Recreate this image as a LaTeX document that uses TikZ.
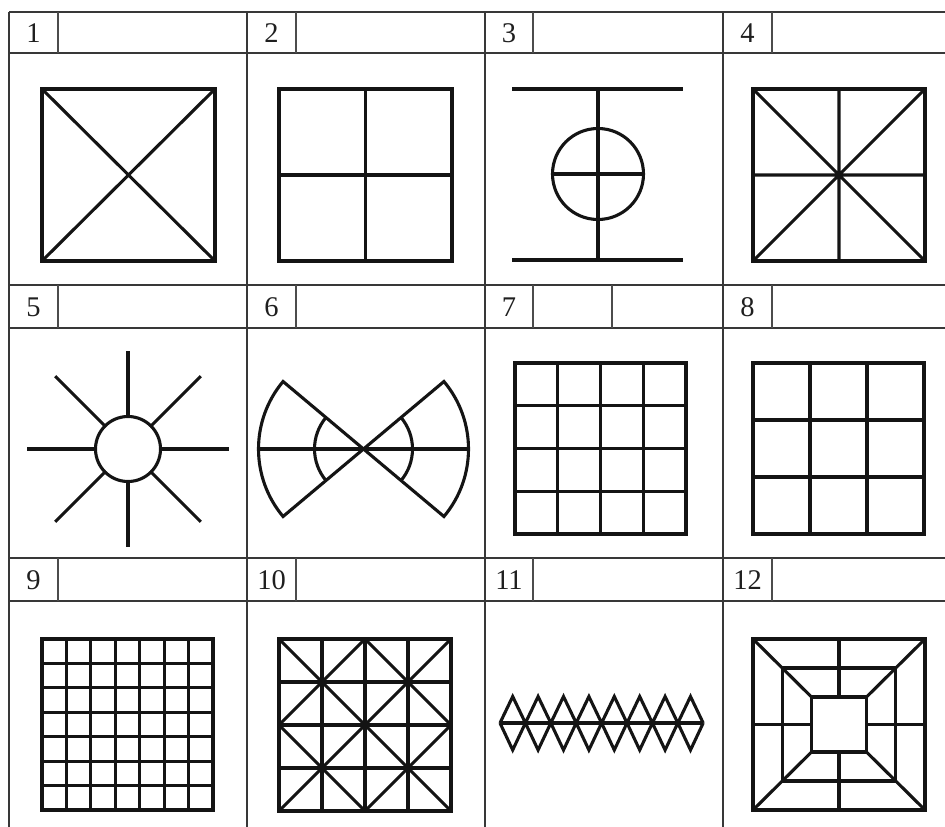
\documentclass[tikz,border=0pt]{standalone}
\usepackage{fontspec}
\setmainfont{Liberation Serif}
\usetikzlibrary{calc}
\begin{document}
\begin{tikzpicture}[x=1pt,y=-1pt,
  tbl/.style={line width=1.4pt, black!78},
  tbldiv/.style={line width=1.15pt, black!70},
  fig/.style={line width=3.1pt, black!92, line join=miter},
  frame/.style={line width=3.6pt, black!92, line join=miter},
  num/.style={font=\fontsize{28.5}{30}\selectfont, inner sep=0pt, text=black!88}]
\useasboundingbox (0,0) rectangle (945,827);
% table
\foreach \y in {12,53,285,328,558,601} \draw[tbl] (9,\y) -- (945,\y);
\foreach \x in {9,247,485,723} \draw[tbl] (\x,12) -- (\x,827);
\foreach \x in {58,296,533,772} {
  \foreach \a/\b in {12/53,285/328,558/601} \draw[tbldiv] (\x,\a) -- (\x,\b);
}
\draw[tbldiv] (612,285) -- (612,328);
% numbers
\node[num] (n1) at (33.5,33) {1};
\node[num] (n2) at (271.5,33) {2};
\node[num] (n3) at (509,33) {3};
\node[num] (n4) at (747.5,33) {4};
\node[num] (n5) at (33.5,307) {5};
\node[num] (n6) at (271.5,307) {6};
\node[num] (n7) at (509,307) {7};
\node[num] (n8) at (747.5,307) {8};
\node[num] (n9) at (33.5,580) {9};
\node[num] (n10) at (271.5,580) {10};
\node[num] (n11) at (509,580) {11};
\node[num] (n12) at (747.5,580) {12};
% fig 1
\draw[frame] (42,89) rectangle (215,261);
\draw[fig] (42,89) -- (215,261) (215,89) -- (42,261);
% fig 2
\draw[frame] (279,89) rectangle (452,261);
\draw[fig] (365.5,89) -- (365.5,261) (279,175) -- (452,175);
% fig 3
\draw[fig] (512,89) -- (683,89) (512,260) -- (683,260) (598,89) -- (598,260);
\draw[fig] (598,174) circle (45.5);
\draw[fig] (552.5,174) -- (643.5,174);
% fig 4
\draw[frame] (753,89) rectangle (925,261);
\draw[fig] (753,89) -- (925,261) (925,89) -- (753,261) (839,89) -- (839,261) (753,175) -- (925,175);
% fig 5
\begin{scope}[shift={(128,449)}]
\draw[fig] (0,0) circle (32.5);
\foreach \a/\r in {0/101,90/98,180/101,270/98,45/103,135/103,225/103,315/103}
  \draw[fig] (\a:32.5) -- (\a:\r);
\end{scope}
% fig 6
\begin{scope}[shift={(363.5,449)}]
\draw[fig] (0,0) -- (40:105) arc[start angle=40,end angle=-40,radius=105] -- cycle;
\draw[fig] (0,0) -- (140:105) arc[start angle=140,end angle=220,radius=105] -- cycle;
\draw[fig] (40:49) arc[start angle=40,end angle=-40,radius=49];
\draw[fig] (140:49) arc[start angle=140,end angle=220,radius=49];
\draw[fig] (-105,0) -- (105,0);
\end{scope}
% fig 7
\foreach \i in {1,2,3} {
  \draw[fig] ({515+\i*42.75},363) -- ({515+\i*42.75},534);
  \draw[fig] (515,{363+\i*42.75}) -- (686,{363+\i*42.75});
}
\draw[frame] (515,363) rectangle (686,534);
% fig 8
\foreach \i in {1,2} {
  \draw[fig] ({753+\i*57},363) -- ({753+\i*57},534);
  \draw[fig] (753,{363+\i*57}) -- (924,{363+\i*57});
}
\draw[frame] (753,363) rectangle (924,534);
% fig 9
\foreach \i in {1,...,6} {
  \draw[fig] ({42+\i*24.43},639) -- ({42+\i*24.43},810);
  \draw[fig] (42,{639+\i*24.43}) -- (213,{639+\i*24.43});
}
\draw[frame] (42,639) rectangle (213,810);
% fig 10
\begin{scope}[shift={(279,639)}]
\foreach \i in {1,2,3} {
  \draw[fig] ({\i*43},0) -- ({\i*43},172);
  \draw[fig] (0,{\i*43}) -- (172,{\i*43});
}
\draw[fig] (0,0) -- (172,172) (172,0) -- (0,172)
  (86,0) -- (0,86) (86,0) -- (172,86) (0,86) -- (86,172) (172,86) -- (86,172);
\draw[frame] (0,0) rectangle (172,172);
\end{scope}
% fig 11
\draw[fig] (500,723) -- (703.2,723);
\draw[fig] (500,723) \foreach \i in {0,...,7} { -- ({500+\i*25.4+12.7},696.5) -- ({500+(\i+1)*25.4},723) };
\draw[fig] (500,723) \foreach \i in {0,...,7} { -- ({500+\i*25.4+12.7},750) -- ({500+(\i+1)*25.4},723) };
% fig 12
\begin{scope}[shift={(839,724.5)}]
\draw[frame] (-86,-85.5) rectangle (86,85.5);
\draw[fig] (-56.5,-56.5) rectangle (56.5,56.5);
\draw[fig] (-27.5,-27.5) rectangle (27.5,27.5);
\draw[fig] (-86,-85.5) -- (-27.5,-27.5) (86,-85.5) -- (27.5,-27.5)
  (-86,85.5) -- (-27.5,27.5) (86,85.5) -- (27.5,27.5);
\draw[fig] (0,-85.5) -- (0,-27.5) (0,27.5) -- (0,85.5)
  (-86,0) -- (-27.5,0) (27.5,0) -- (86,0);
\end{scope}
\end{tikzpicture}
\end{document}
